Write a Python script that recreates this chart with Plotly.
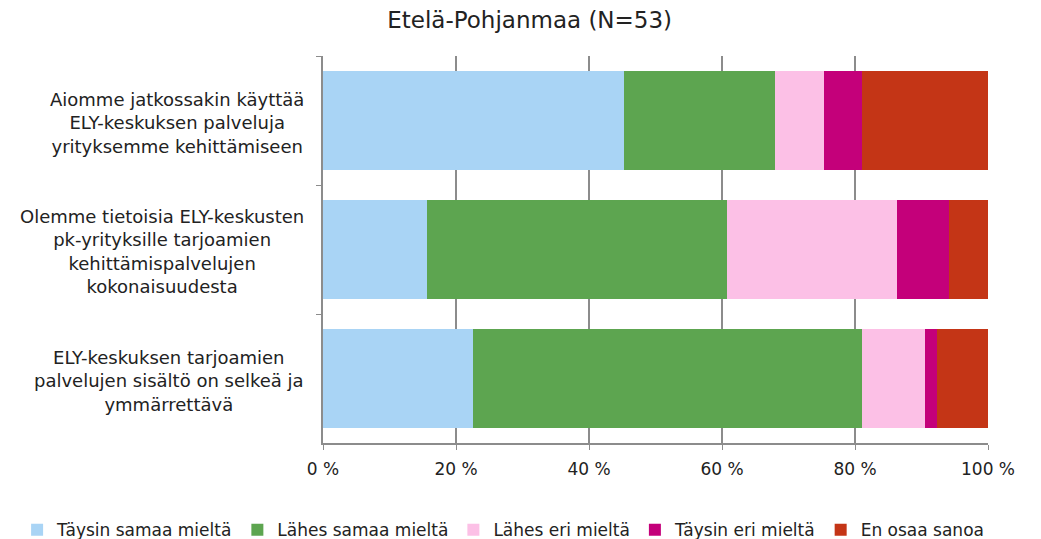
import plotly.graph_objects as go

categories = [
    'Aiomme jatkossakin käyttää<br>ELY-keskuksen palveluja<br>yrityksemme kehittämiseen',
    'Olemme tietoisia ELY-keskusten<br>pk-yrityksille tarjoamien<br>kehittämispalvelujen<br>kokonaisuudesta',
    'ELY-keskuksen tarjoamien<br>palvelujen sisältö on selkeä ja<br>ymmärrettävä',
]
series_names = ['Täysin samaa mieltä', 'Lähes samaa mieltä', 'Lähes eri mieltä',
                'Täysin eri mieltä', 'En osaa sanoa']
taysin_samaa = [45.3, 15.7, 22.6]
lahes_samaa = [22.6, 45.1, 58.5]
lahes_eri = [7.5, 25.5, 9.4]
taysin_eri = [5.7, 7.8, 1.9]
en_osaa = [18.9, 5.9, 7.6]
colors = ['#A9D4F5', '#5DA550', '#FCC0E6', '#C4007A', '#C43516']
x_ticks = [0, 20, 40, 60, 80, 100]
x_ticktext = ['0 %', '20 %', '40 %', '60 %', '80 %', '100 %']

font = 'DejaVu Sans'
fig = go.Figure()
for name, vals, col in zip(series_names,
                           [taysin_samaa, lahes_samaa, lahes_eri, taysin_eri, en_osaa],
                           colors):
    fig.add_trace(go.Bar(y=categories, x=vals, name=name, orientation='h',
                         marker=dict(color=col, line=dict(width=0))))

# category labels: block right-aligned near the axis, lines centered inside
# (page body has an 8px margin, so the figure is 8px smaller)
for c in categories:
    fig.add_annotation(text=c, x=-0.025, xref='paper', y=c, yref='y', yshift=-2,
                       showarrow=False, align='center', xanchor='right',
                       font=dict(family=font, size=18, color='#222'))

fig.update_layout(
    barmode='stack', bargap=0.23,
    title=dict(text='Etelä-Pohjanmaa (N=53)', x=0.505, xanchor='center',
               y=0.992, yanchor='top',
               font=dict(family=font, size=23, color='#222')),
    font=dict(family=font, size=17, color='#222'),
    plot_bgcolor='white', paper_bgcolor='white',
    width=1033, height=531,
    margin=dict(l=315, r=53, t=48, b=96, autoexpand=False),
    legend=dict(orientation='h', x=-0.46, xanchor='left',
                y=-0.272, yanchor='bottom',
                font=dict(family=font, size=17), itemwidth=30, traceorder='normal'),
    xaxis=dict(range=[0, 100], tickvals=x_ticks, ticktext=x_ticktext,
               tickfont=dict(size=17), ticklabelstandoff=5,
               showgrid=True, gridcolor='#8c8c8c', gridwidth=1.5,
               showline=True, linecolor='#8c8c8c', linewidth=1.5,
               ticks='outside', ticklen=5, tickcolor='#8c8c8c', zeroline=False),
    yaxis=dict(autorange='reversed', showticklabels=False, tickson='boundaries',
               ticks='outside', ticklen=5, tickcolor='#8c8c8c',
               showline=True, linecolor='#8c8c8c', linewidth=1.5, showgrid=False),
)
fig.write_html('out.html')
